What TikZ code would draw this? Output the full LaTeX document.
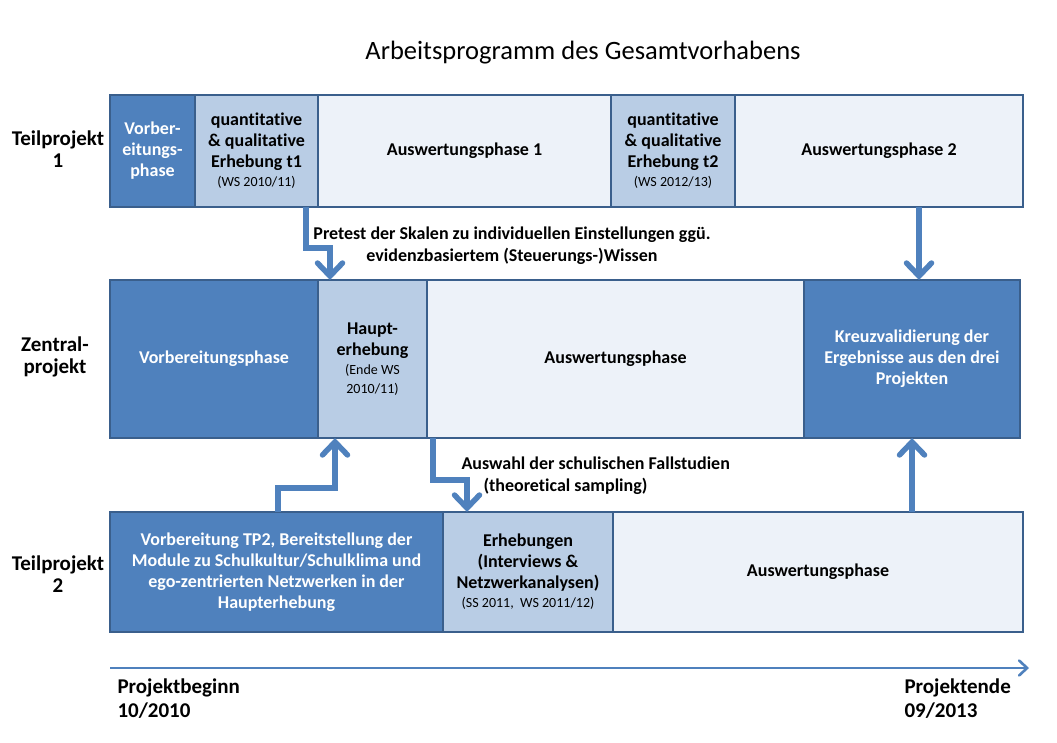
\documentclass[tikz,border=0pt]{standalone}
\usepackage{fontspec}
\setmainfont{Carlito}[Ligatures=NoCommon]
\usetikzlibrary{arrows.meta,positioning}
\definecolor{cdark}{HTML}{4F81BD}
\definecolor{cmid}{HTML}{B9CDE5}
\definecolor{cpale}{HTML}{EDF2F9}
\definecolor{cborder}{HTML}{3A5F8C}
\newcommand{\subline}[1]{\\[-2pt]{\fontsize{14}{17}\selectfont\mdseries #1}}

\begin{document}
\begin{tikzpicture}[x=1pt,y=-1pt,font=\fontsize{18}{21}\selectfont\bfseries]
  \tikzstyle{cell}=[draw=cborder,line width=2.6pt,inner sep=0pt,outer sep=0pt,
    anchor=north west,align=center]
  \tikzstyle{dark}=[cell,fill=cdark,text=white]
  \tikzstyle{mid}=[cell,fill=cmid]
  \tikzstyle{pale}=[cell,fill=cpale]
  \tikzstyle{lbl}=[align=center,font=\fontsize{21}{21.5}\selectfont\bfseries]
  \tikzstyle{flow}=[cdark,line width=5.5pt,
    -{Straight Barb[width=25pt,length=13pt,line cap=round]}]
  \useasboundingbox (0,0) rectangle (1057,743);

  \node[font=\fontsize{26.5}{30}\selectfont] (title) at (583,53) {Arbeitsprogramm des Gesamtvorhabens};

  % Teilprojekt 1
  \node[lbl] (tp1) at (58,149) {Teilprojekt\\1};
  \node[dark,minimum width=85pt,minimum height=112pt] (v1) at (110,95) {Vorber-\\eitungs-\\phase};
  \node[mid,minimum width=123pt,minimum height=112pt,right=0pt of v1] (e1)
    {quantitative\\\& qualitative\\Erhebung t1\subline{(WS 2010/11)}};
  \node[pale,minimum width=293pt,minimum height=112pt,right=0pt of e1] (a1) {Auswertungsphase 1};
  \node[mid,minimum width=124pt,minimum height=112pt,right=0pt of a1] (e2)
    {quantitative\\\& qualitative\\Erhebung t2\subline{(WS 2012/13)}};
  \node[pale,minimum width=288pt,minimum height=112pt,right=0pt of e2] (a2) {Auswertungsphase 2};

  % Zentralprojekt
  \node[lbl] (zp) at (55,357) {Zentral-\\projekt};
  \node[dark,minimum width=208pt,minimum height=158pt] (vz) at (110,280) {Vorbereitungsphase};
  \node[mid,minimum width=109pt,minimum height=158pt,right=0pt of vz] (hz)
    {Haupt-\\erhebung\subline{(Ende WS}\subline{2010/11)}};
  \node[pale,minimum width=377pt,minimum height=158pt,right=0pt of hz] (az) {Auswertungsphase};
  \node[dark,minimum width=216pt,minimum height=158pt,right=0pt of az] (kz)
    {Kreuzvalidierung der\\Ergebnisse aus den drei\\Projekten};

  % Teilprojekt 2
  \node[lbl] (tp2) at (58,574) {Teilprojekt\\2};
  \node[dark,minimum width=333pt,minimum height=120pt] (v2) at (110,512)
    {Vorbereitung TP2, Bereitstellung der\\Module zu Schulkultur/Schulklima und\\ego-zentrierten Netzwerken in der\\Haupterhebung};
  \node[mid,minimum width=170pt,minimum height=120pt,right=0pt of v2] (e3)
    {Erhebungen\\(Interviews \&\\Netzwerkanalysen)\subline{(SS 2011,\ \ WS 2011/12)}};
  \node[pale,minimum width=410pt,minimum height=120pt,right=0pt of e3] (a3) {Auswertungsphase};

  % Pfeile zwischen den Projekten
  \draw[flow] ([xshift=-12pt]e1.south east) -- ++(0,41) -| ([xshift=12pt]hz.north west);
  \node[lbl,font=\fontsize{18}{22}\selectfont\bfseries] (pretest) at (512,246)
    {Pretest der Skalen zu individuellen Einstellungen ggü.\\evidenzbasiertem (Steuerungs-)Wissen};
  \draw[flow] ([xshift=40pt]a2.south) -- ([xshift=7pt]kz.north);
  \draw[flow] ([xshift=1.5pt]v2.north) -- ++(0,-24) -| ([xshift=17pt]hz.south west);
  \draw[flow] ([xshift=6pt]az.south west) -- ++(0,42) -| ([xshift=24pt]e3.north west);
  \node[align=left,anchor=west,font=\fontsize{18}{22}\selectfont\bfseries] (auswahl) at (458,476)
    {Auswahl der schulischen Fallstudien\\\hspace*{22pt}(theoretical sampling)};
  \draw[flow] ([xshift=94pt]a3.north) -- ([xshift=-108pt]kz.south east);

  % Zeitachse
  \coordinate (t0) at (110,668);
  \coordinate (t1) at (1029,668);
  \draw[cdark,line width=2.6pt,-{Straight Barb[width=15pt,length=8pt,line cap=round]}] (t0) -- (t1);
  \node[align=left,anchor=north west,font=\fontsize{21}{24}\selectfont\bfseries] (beginn) at (114,675) {Projektbeginn\\10/2010};
  \node[align=left,anchor=north west,font=\fontsize{21}{24}\selectfont\bfseries] (ende) at (901,675) {Projektende\\09/2013};
\end{tikzpicture}
\end{document}
